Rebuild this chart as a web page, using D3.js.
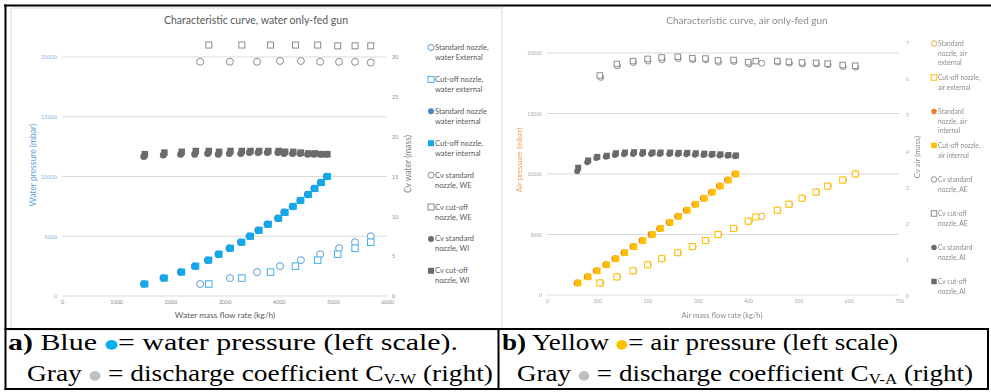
<!DOCTYPE html>
<html>
<head>
<meta charset="utf-8">
<script src="https://cdn.jsdelivr.net/npm/d3@7"></script>
<style>
  body { margin: 0; background: #fff; }
  svg text { font-family: Lato, "Noto Sans", sans-serif; }
  svg text.cap { font-family: "Liberation Serif", "Times New Roman", Tinos, "Nimbus Roman", Times, serif; }
</style>
</head>
<body>
<svg id="fig" width="991" height="392"></svg>
<script>
// ---- water only-fed gun ----
const waterTicksX = [0, 1000, 2000, 3000, 4000, 5000, 6000];
const waterTicksP = [0, 5000, 10000, 15000, 20000];
const waterTicksCv = [0, 5, 10, 15, 20, 25, 30];

const waterPresInt = [1000, 1500, 2000, 2500, 3000, 3500, 4000, 4500, 5000, 5500, 6000, 6500, 7000, 7500, 8000, 8500, 9000, 9500, 10000];
const waterStdIntFlow = [1510, 1870, 2190, 2450, 2690, 2885, 3090, 3300, 3460, 3620, 3790, 3985, 4100, 4255, 4395, 4535, 4655, 4775, 4885];
const waterCutIntFlow = [1530, 1890, 2210, 2470, 2710, 2900, 3110, 3320, 3480, 3640, 3810, 4000, 4120, 4270, 4410, 4550, 4670, 4790, 4900];

const waterStdExtFlow = [2550, 3100, 3600, 4025, 4410, 4765, 5115, 5410, 5700];
const waterStdExtPres = [1000, 1500, 2000, 2500, 3000, 3500, 4000, 4500, 5000];
const waterCutExtFlow = [2710, 3320, 3850, 4310, 4720, 5090, 5410, 5700];
const waterCutExtPres = [1000, 1500, 2000, 2500, 3000, 3500, 4000, 4500];

const cvWEStd = [29.4, 29.4, 29.4, 29.5, 29.5, 29.4, 29.4, 29.4, 29.3];
const cvWECut = [31.5, 31.5, 31.5, 31.5, 31.5, 31.4, 31.4, 31.4, 31.2];
const cvWIStd = [17.5, 17.7, 17.8, 17.8, 17.9, 17.8, 17.9, 17.9, 18.0, 18.0, 18.0, 18.0, 17.9, 17.9, 17.9, 17.8, 17.8, 17.8, 17.8];
const cvWICut = [17.8, 18.0, 18.1, 18.2, 18.2, 18.1, 18.2, 18.2, 18.2, 18.2, 18.2, 18.2, 18.1, 18.1, 18.0, 17.9, 17.9, 17.8, 17.8];

const waterLegend = [
  ["Standard nozzle,", "water External"], ["Cut-off nozzle,", "water external"],
  ["Standard nozzle", "water internal"], ["Cut-off nozzle,", "water internal"],
  ["Cv standard", "nozzle, WE"], ["Cv cut-off", "nozzle, WE"],
  ["Cv standard", "nozzle, WI"], ["Cv cut-off", "nozzle, WI"]
];

// ---- air only-fed gun ----
const airTicksX = [0, 100, 200, 300, 400, 500, 600, 700];
const airTicksP = [0, 5000, 10000, 15000, 20000];
const airTicksCv = [0, 1, 2, 3, 4, 5, 6, 7];

const airPresInt = [1000, 1500, 2000, 2500, 3000, 3500, 4000, 4500, 5000, 5500, 6000, 6500, 7000, 7500, 8000, 8500, 9000, 9500, 10000];
const airStdIntFlow = [60, 80, 98, 117, 135, 153, 171, 189, 207, 224, 243, 260, 277, 294, 311, 327, 343, 359, 374];
const airCutIntFlow = [62, 82, 100, 119, 137, 155, 173, 191, 210, 226, 245, 262, 279, 296, 313, 329, 345, 361, 376];

const airStdExtFlow = [107, 140, 172, 201, 229, 261, 290, 316, 341, 372, 402, 427, 459, 482, 508, 536, 559, 589, 614];
const airStdExtPres = [1000, 1500, 2000, 2500, 3000, 3500, 4000, 4500, 5000, 5500, 6100, 6500, 7000, 7500, 8000, 8500, 9000, 9500, 10000];
const airCutExtFlow = [105, 139, 171, 200, 228, 260, 289, 315, 340, 371, 400, 415, 458, 481, 507, 535, 558, 588, 613];
const airCutExtPres = [1000, 1500, 2000, 2500, 3000, 3500, 4000, 4500, 5000, 5500, 6100, 6450, 7000, 7500, 8000, 8500, 9000, 9500, 10000];

const cvAEStd = [6.05, 6.37, 6.46, 6.50, 6.54, 6.57, 6.54, 6.54, 6.47, 6.49, 6.42, 6.44, 6.47, 6.44, 6.42, 6.42, 6.40, 6.35, 6.33];
const cvAECut = [6.10, 6.42, 6.50, 6.56, 6.60, 6.62, 6.58, 6.57, 6.52, 6.53, 6.47, 6.50, 6.50, 6.48, 6.46, 6.45, 6.43, 6.39, 6.37];
const cvAIStd = [3.45, 3.70, 3.82, 3.85, 3.90, 3.92, 3.93, 3.93, 3.93, 3.93, 3.93, 3.92, 3.92, 3.91, 3.90, 3.90, 3.89, 3.88, 3.87];
const cvAICut = [3.55, 3.75, 3.85, 3.88, 3.95, 3.97, 3.98, 3.98, 3.97, 3.97, 3.97, 3.96, 3.96, 3.95, 3.94, 3.93, 3.92, 3.90, 3.89];

const airLegend = [
  ["Standard", "nozzle, air", "external"], ["Cut-off nozzle,", "air external"],
  ["Standard", "nozzle, air", "internal"], ["Cut-off nozzle,", "air internal"],
  ["Cv standard", "nozzle, AE"], ["Cv cut-off", "nozzle, AE"],
  ["Cv standard", "nozzle, AI"], ["Cv cut-off", "nozzle, AI"]
];

const svg = d3.select("#fig");
const fmt = d3.format("d");

// frame of the left picture
svg.append("rect").attr("x", 11).attr("y", 8).attr("width", 491).attr("height", 322)
  .attr("fill", "none").attr("stroke", "#d9d9d9");

function drawSeries(g, s, x, y) {
  const pts = d3.zip(s.xs, s.ys);
  if (s.shape === "circle") {
    g.selectAll(null).data(pts).join("circle")
      .attr("cx", d => x(d[0])).attr("cy", d => y(d[1])).attr("r", s.size / 2)
      .attr("fill", s.fill).attr("stroke", s.stroke).attr("stroke-width", s.stroke === "none" ? 0 : 1);
  } else {
    g.selectAll(null).data(pts).join("rect")
      .attr("x", d => x(d[0]) - s.size / 2).attr("y", d => y(d[1]) - s.size / 2)
      .attr("width", s.size).attr("height", s.size)
      .attr("fill", s.fill).attr("stroke", s.stroke).attr("stroke-width", s.stroke === "none" ? 0 : 1);
  }
}

function drawPanel(cfg) {
  const g = svg.append("g").attr("clip-path", cfg.clip ? `url(#${cfg.clip})` : null);
  if (cfg.filter) g.attr("filter", `url(#${cfg.filter})`);

  const x = d3.scaleLinear().domain(cfg.xDomain).range(cfg.xRange);
  const yL = d3.scaleLinear().domain(cfg.yLDomain).range(cfg.yLRange);
  const yR = d3.scaleLinear().domain(cfg.yRDomain).range(cfg.yRRange);

  // gridlines
  g.append("g").selectAll("line").data(cfg.yLTicks).join("line")
    .attr("x1", cfg.xRange[0]).attr("x2", cfg.xRange[1])
    .attr("y1", d => yL(d)).attr("y2", d => yL(d))
    .attr("stroke", "#d9d9d9").attr("stroke-width", 1);

  // axes
  const ax = g.append("g").attr("transform", `translate(0,${yL(0)})`)
    .call(d3.axisBottom(x).tickValues(cfg.xTicks).tickFormat(fmt).tickSize(0).tickPadding(4.5));
  const al = g.append("g").attr("transform", `translate(${cfg.xRange[0]},0)`)
    .call(d3.axisLeft(yL).tickValues(cfg.yLTicks).tickFormat(fmt).tickSize(0).tickPadding(5));
  const ar = g.append("g").attr("transform", `translate(${cfg.xRange[1]},0)`)
    .call(d3.axisRight(yR).tickValues(cfg.yRTicks).tickFormat(fmt).tickSize(0).tickPadding(cfg.rPad));
  [ax, al, ar].forEach(a => a.select(".domain").remove());
  ax.selectAll("text").attr("font-size", cfg.tickSize).attr("fill", cfg.tickColor);
  al.selectAll("text").attr("font-size", cfg.tickSize).attr("fill", cfg.leftTickColor);
  ar.selectAll("text").attr("font-size", cfg.tickSize).attr("fill", cfg.tickColor);

  // titles
  g.append("text").attr("x", cfg.title.x).attr("y", cfg.title.y)
    .attr("text-anchor", "middle").attr("font-size", cfg.title.size).attr("fill", cfg.titleColor)
    .text(cfg.title.text);
  g.append("text").attr("x", cfg.xTitle.x).attr("y", cfg.xTitle.y)
    .attr("text-anchor", "middle").attr("font-size", cfg.xTitle.size).attr("fill", cfg.titleColor)
    .text(cfg.xTitle.text);
  g.append("text").attr("transform", `translate(${cfg.yLTitle.x},${cfg.yLTitle.y}) rotate(-90)`)
    .attr("text-anchor", "middle").attr("font-size", cfg.yLTitle.size).attr("fill", cfg.yLTitle.color)
    .text(cfg.yLTitle.text);
  g.append("text").attr("transform", `translate(${cfg.yRTitle.x},${cfg.yRTitle.y}) rotate(-90)`)
    .attr("text-anchor", "middle").attr("font-size", cfg.yRTitle.size).attr("fill", cfg.yRTitle.color)
    .text(cfg.yRTitle.text);

  // markers
  const mg = g.append("g");
  cfg.series.forEach(s => drawSeries(mg, s, x, s.axis === "left" ? yL : yR));

  // legend
  const lg = g.append("g");
  cfg.legendOrder.forEach((s, i) => {
    const y0 = cfg.legend.y0 + i * cfg.legend.step;
    const m = Object.assign({}, s, { size: cfg.legend.mark, xs: [0], ys: [0] });
    drawSeries(lg, m, () => cfg.legend.x, () => y0 - 2.5);
    const t = lg.append("text").attr("x", cfg.legend.x + 4).attr("y", y0)
      .attr("font-size", cfg.legend.size).attr("fill", cfg.titleColor);
    cfg.legendText[i].forEach((line, j) => {
      t.append("tspan").attr("x", cfg.legend.x + 4).attr("y", y0 + j * cfg.legend.line).text(line);
    });
  });
}

const defs = svg.append("defs");
defs.append("clipPath").attr("id", "clipL").append("rect").attr("x", 0).attr("y", 0).attr("width", 492).attr("height", 330);
defs.append("filter").attr("id", "soft").append("feGaussianBlur").attr("stdDeviation", 0.3);

// water panel
const wStdExt = { shape: "circle", size: 7, fill: "#fff", stroke: "#5b9bd5", axis: "left", xs: waterStdExtFlow, ys: waterStdExtPres };
const wCutExt = { shape: "square", size: 6.5, fill: "#fff", stroke: "#3fb1e8", axis: "left", xs: waterCutExtFlow, ys: waterCutExtPres };
const wStdInt = { shape: "circle", size: 7.5, fill: "#4a86c6", stroke: "none", axis: "left", xs: waterStdIntFlow, ys: waterPresInt };
const wCutInt = { shape: "square", size: 7, fill: "#0fa9ec", stroke: "none", axis: "left", xs: waterCutIntFlow, ys: waterPresInt };
const cWEStd = { shape: "circle", size: 7, fill: "#fff", stroke: "#8c8c8c", axis: "right", xs: waterStdExtFlow, ys: cvWEStd };
const cWECut = { shape: "square", size: 6, fill: "#fff", stroke: "#8c8c8c", axis: "right", xs: waterCutExtFlow, ys: cvWECut };
const cWIStd = { shape: "circle", size: 7, fill: "#6b6b6b", stroke: "none", axis: "right", xs: waterStdIntFlow, ys: cvWIStd };
const cWICut = { shape: "square", size: 6.5, fill: "#6b6b6b", stroke: "none", axis: "right", xs: waterCutIntFlow, ys: cvWICut };

drawPanel({
  clip: "clipL",
  xDomain: [0, 6000], xRange: [62, 387],
  yLDomain: [0, 20000], yLRange: [296, 57],
  yRDomain: [0, 30], yRRange: [296, 57],
  xTicks: waterTicksX, yLTicks: waterTicksP, yRTicks: waterTicksCv,
  rPad: 5, tickSize: 5.5, tickColor: "#8c8c8c", leftTickColor: "#7fb0de", titleColor: "#595959",
  title: { text: "Characteristic curve, water only-fed gun", x: 256, y: 24, size: 10.5 },
  xTitle: { text: "Water mass flow rate (kg/h)", x: 225, y: 318, size: 8.3 },
  yLTitle: { text: "Water pressure (mbar)", x: 36, y: 165, size: 8.5, color: "#5aa5dc" },
  yRTitle: { text: "Cv water (mass)", x: 411, y: 164, size: 8.5, color: "#7f7f7f" },
  series: [cWEStd, cWECut, cWIStd, cWICut, wStdExt, wCutExt, wStdInt, wCutInt],
  legendOrder: [wStdExt, wCutExt, wStdInt, wCutInt, cWEStd, cWECut, cWIStd, cWICut],
  legendText: waterLegend,
  legend: { x: 431, y0: 50, step: 31.9, line: 10, size: 7.5, mark: 6 }
});

// air panel
const aStdExt = { shape: "circle", size: 6.5, fill: "#fff", stroke: "#f2a541", axis: "left", xs: airStdExtFlow, ys: airStdExtPres };
const aCutExt = { shape: "square", size: 6, fill: "#fff", stroke: "#ffc000", axis: "left", xs: airCutExtFlow, ys: airCutExtPres };
const aStdInt = { shape: "circle", size: 7, fill: "#ed7d31", stroke: "none", axis: "left", xs: airStdIntFlow, ys: airPresInt };
const aCutInt = { shape: "square", size: 6.5, fill: "#ffc000", stroke: "none", axis: "left", xs: airCutIntFlow, ys: airPresInt };
const cAEStd = { shape: "circle", size: 6, fill: "#fff", stroke: "#8c8c8c", axis: "right", xs: airStdExtFlow, ys: cvAEStd };
const cAECut = { shape: "square", size: 5.5, fill: "#fff", stroke: "#8c8c8c", axis: "right", xs: airCutExtFlow, ys: cvAECut };
const cAIStd = { shape: "circle", size: 6, fill: "#6b6b6b", stroke: "none", axis: "right", xs: airStdIntFlow, ys: cvAIStd };
const cAICut = { shape: "square", size: 6, fill: "#6b6b6b", stroke: "none", axis: "right", xs: airCutIntFlow, ys: cvAICut };

drawPanel({
  filter: "soft",
  xDomain: [0, 700], xRange: [547, 899],
  yLDomain: [0, 20000], yLRange: [295, 53],
  yRDomain: [0, 7], yRRange: [296, 43],
  xTicks: airTicksX, yLTicks: airTicksP, yRTicks: airTicksCv,
  rPad: 7, tickSize: 5, tickColor: "#a6a6a6", leftTickColor: "#a6a6a6", titleColor: "#8c8c8c",
  title: { text: "Characteristic curve, air only-fed gun", x: 747, y: 24, size: 10 },
  xTitle: { text: "Air mass flow rate (kg/h)", x: 722, y: 318, size: 7.6 },
  yLTitle: { text: "Air pressure (mbar)", x: 522, y: 160, size: 7.8, color: "#f0a060" },
  yRTitle: { text: "Cv air (mass)", x: 920, y: 157, size: 7.8, color: "#8c8c8c" },
  series: [cAEStd, cAECut, cAIStd, cAICut, aStdExt, aCutExt, aStdInt, aCutInt],
  legendOrder: [aStdExt, aCutExt, aStdInt, aCutInt, cAEStd, cAECut, cAIStd, cAICut],
  legendText: airLegend,
  legend: { x: 934, y0: 46, step: 34, line: 9.6, size: 6.6, mark: 5.5 }
});

// table lines
const ink = "#000";
svg.append("line").attr("x1", 4).attr("x2", 991).attr("y1", 5.5).attr("y2", 5.5).attr("stroke", ink).attr("stroke-width", 2);
svg.append("line").attr("x1", 5.5).attr("x2", 5.5).attr("y1", 4.5).attr("y2", 390).attr("stroke", ink).attr("stroke-width", 2);
svg.append("line").attr("x1", 4.5).attr("x2", 989).attr("y1", 329).attr("y2", 329).attr("stroke", ink).attr("stroke-width", 2);
svg.append("line").attr("x1", 4.5).attr("x2", 989).attr("y1", 389).attr("y2", 389).attr("stroke", ink).attr("stroke-width", 2);
svg.append("line").attr("x1", 498.5).attr("x2", 498.5).attr("y1", 328).attr("y2", 390).attr("stroke", ink).attr("stroke-width", 2);
svg.append("line").attr("x1", 988).attr("x2", 988).attr("y1", 328).attr("y2", 390).attr("stroke", ink).attr("stroke-width", 2);

// captions
function caption(x, y, width, parts) {
  const t = svg.append("text").attr("class", "cap").attr("x", x).attr("y", y)
    .attr("font-size", 24).attr("fill", "#000")
    .style("font-family", "'Liberation Serif', 'Times New Roman', Tinos, Times, serif")
    .attr("textLength", width).attr("lengthAdjust", "spacingAndGlyphs");
  parts.forEach(p => {
    const s = t.append("tspan").text(p.t);
    if (p.b) s.attr("font-weight", "bold");
    if (p.c) s.attr("fill", p.c).attr("font-size", 12.5).attr("dy", -2).style("font-family", "'DejaVu Sans', sans-serif");
    if (p.back) s.attr("dy", 2);
    if (p.sub) s.attr("font-size", 15).attr("dy", 3);
    if (p.up) s.attr("dy", -3);
  });
}
caption(8, 350, 450, [{ t: "a)", b: true }, { t: " Blue " }, { t: "\u25CF", c: "#00b0f0" }, { t: "= water pressure (left scale).", back: true }]);
caption(27, 381, 466, [{ t: "Gray " }, { t: "\u25CF", c: "#bfbfbf" }, { t: " = discharge coefficient C", back: true }, { t: "V-W", sub: true }, { t: " (right)", up: true }]);
caption(502, 350, 396, [{ t: "b)", b: true }, { t: " Yellow " }, { t: "\u25CF", c: "#ffc000" }, { t: "= air pressure (left scale)", back: true }]);
caption(517, 381, 456, [{ t: "Gray " }, { t: "\u25CF", c: "#bfbfbf" }, { t: " = discharge coefficient C", back: true }, { t: "V-A", sub: true }, { t: " (right)", up: true }]);
</script>
</body>
</html>
